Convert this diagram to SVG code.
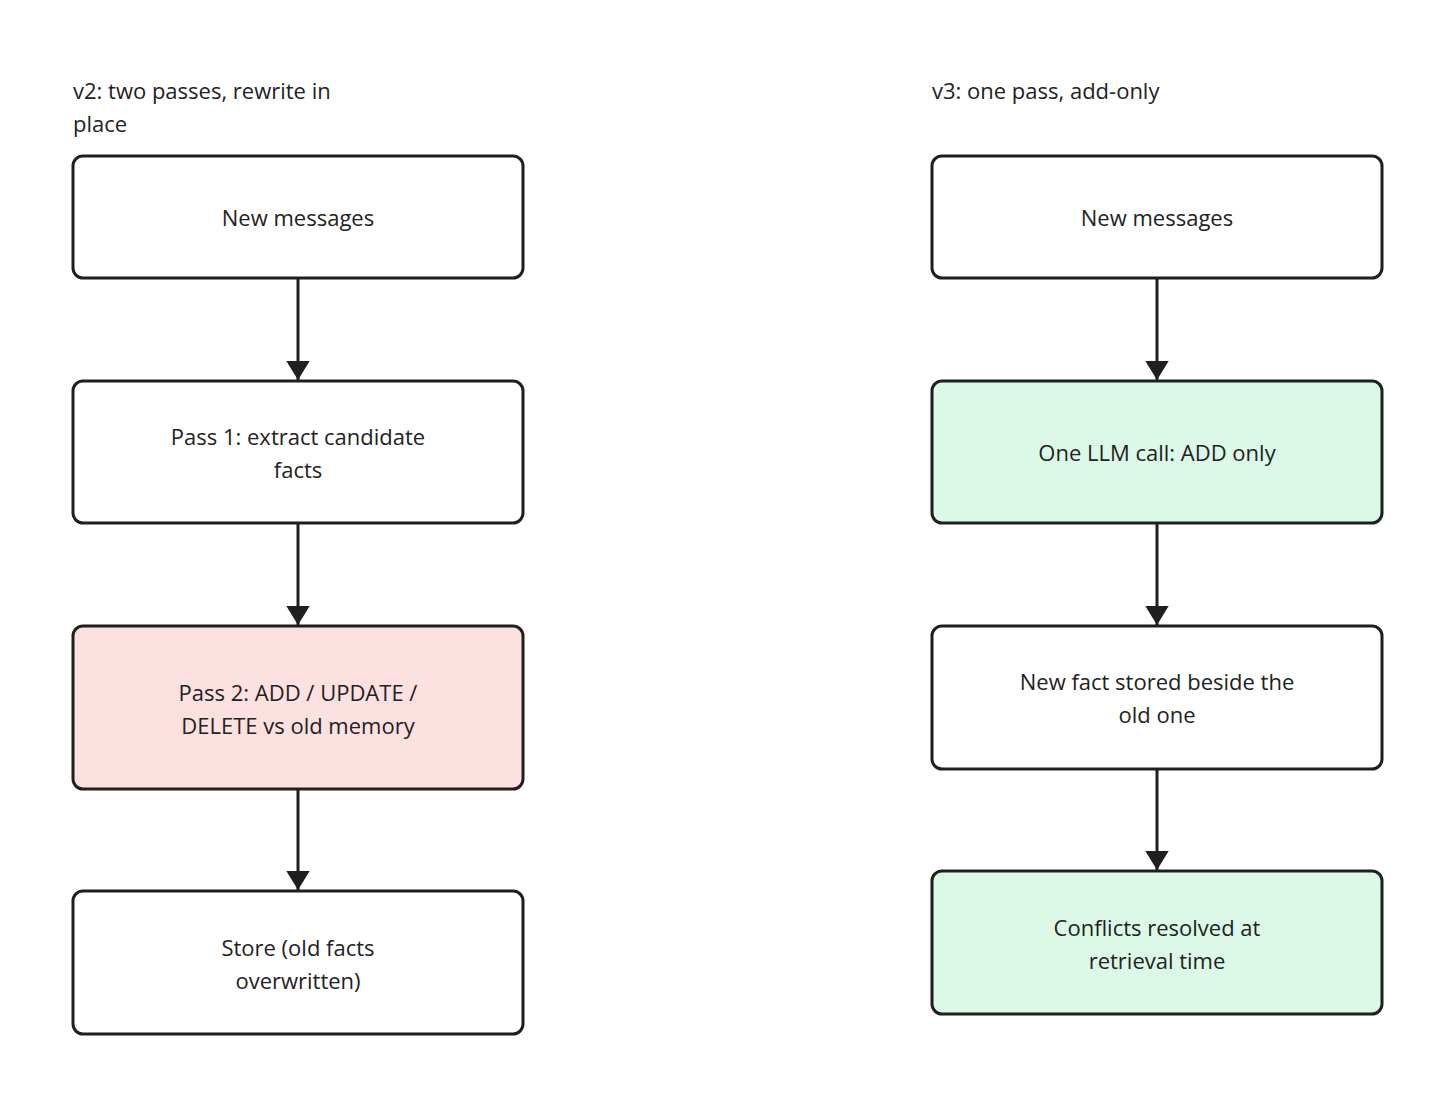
<svg xmlns="http://www.w3.org/2000/svg" width="1456" height="1109" viewBox="0 0 1456 1109">
<defs>
<style>
.box{stroke:#1f1f1f;stroke-width:3;}
.plain{fill:#ffffff;}
.red{fill:#fde0e0;}
.green{fill:#dcf9e8;}
text{font-family:"Open Sans","Liberation Sans",sans-serif;font-size:22px;fill:#222222;}
.c{text-anchor:middle;}
.edge{stroke:#1f1f1f;stroke-width:3;fill:none;}
</style>
<marker id="arrow" viewBox="0 0 10 10" refX="10" refY="5" markerWidth="6.5" markerHeight="8" markerUnits="strokeWidth" orient="auto" preserveAspectRatio="none">
<path d="M0,0 L10,5 L0,10 z" fill="#1f1f1f"/>
</marker>
</defs>
<rect width="1456" height="1109" fill="#ffffff"/>
<g id="title-v2">
<text x="73" y="99">v2: two passes, rewrite in</text>
<text x="73" y="132">place</text>
</g>
<g id="title-v3">
<text x="932" y="99">v3: one pass, add-only</text>
</g>
<g id="connectors">
<path class="edge" d="M298,278 L298,380" marker-end="url(#arrow)"/>
<path class="edge" d="M298,523 L298,625" marker-end="url(#arrow)"/>
<path class="edge" d="M298,789 L298,890" marker-end="url(#arrow)"/>
<path class="edge" d="M1157,278 L1157,380" marker-end="url(#arrow)"/>
<path class="edge" d="M1157,523 L1157,625" marker-end="url(#arrow)"/>
<path class="edge" d="M1157,769 L1157,870" marker-end="url(#arrow)"/>
</g>
<g id="l1"><rect class="box plain" x="73" y="156" width="450" height="122" rx="10"/><text class="c" x="298" y="226">New messages</text></g>
<g id="l2"><rect class="box plain" x="73" y="381" width="450" height="142" rx="10"/><text class="c" x="298" y="445">Pass 1: extract candidate</text><text class="c" x="298" y="478">facts</text></g>
<g id="l3"><rect class="box red" x="73" y="626" width="450" height="163" rx="10"/><text class="c" x="298" y="701">Pass 2: ADD / UPDATE /</text><text class="c" x="298" y="734">DELETE vs old memory</text></g>
<g id="l4"><rect class="box plain" x="73" y="891" width="450" height="143" rx="10"/><text class="c" x="298" y="956">Store (old facts</text><text class="c" x="298" y="989">overwritten)</text></g>
<g id="r1"><rect class="box plain" x="932" y="156" width="450" height="122" rx="10"/><text class="c" x="1157" y="226">New messages</text></g>
<g id="r2"><rect class="box green" x="932" y="381" width="450" height="142" rx="10"/><text class="c" x="1157" y="461">One LLM call: ADD only</text></g>
<g id="r3"><rect class="box plain" x="932" y="626" width="450" height="143" rx="10"/><text class="c" x="1157" y="690">New fact stored beside the</text><text class="c" x="1157" y="723">old one</text></g>
<g id="r4"><rect class="box green" x="932" y="871" width="450" height="143" rx="10"/><text class="c" x="1157" y="936">Conflicts resolved at</text><text class="c" x="1157" y="969">retrieval time</text></g>
</svg>
